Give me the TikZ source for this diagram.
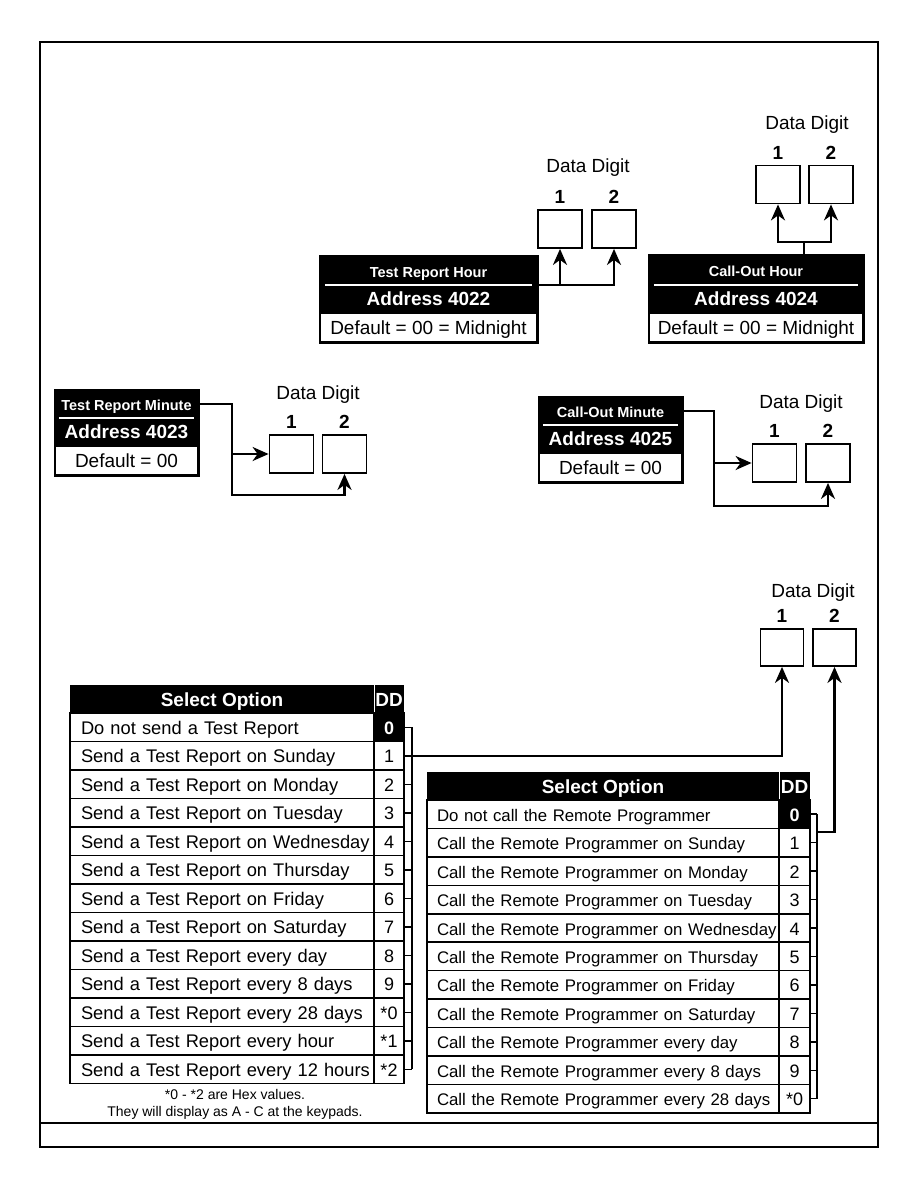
\documentclass[tikz,border=0pt]{standalone}
\usepackage{fontspec}
\setmainfont{Liberation Sans}
\usetikzlibrary{positioning,arrows.meta}

\tikzset{
  frame/.style={line width=2pt},
  edge/.style={line width=2pt},
  tophead/.style={inner sep=0pt, fill=black, text=white, font=\fontsize{14.5}{16}\selectfont\bfseries, text height=14pt, text depth=1pt},
  addr/.style={inner sep=0pt, fill=black, text=white, font=\fontsize{19}{22}\selectfont\bfseries, text height=15pt, text depth=3pt},
  defrow/.style={inner sep=0pt, draw=black, line width=1.5pt, fill=white, font=\fontsize{19}{22}\selectfont, text height=17pt, text depth=2.5pt},
  sep/.style={white, line width=1.5pt},
  digit/.style={draw=black, line width=1.8pt, minimum width=44pt, minimum height=38pt, inner sep=0pt},
  dnum/.style={font=\fontsize{19}{22}\selectfont\bfseries, inner sep=0pt, text height=14pt, text depth=0pt},
  dlabel/.style={font=\fontsize{19}{22}\selectfont, inner sep=0pt},
  conn/.style={line width=2.4pt, -{Stealth[length=16pt,width=14pt,inset=5pt]}},
  wire/.style={line width=2.4pt},
  selhead/.style={inner sep=0pt, fill=black, text=white, minimum height=28pt, font=\fontsize{19}{22}\selectfont\bfseries, text height=17pt, text depth=3pt},
  optcell/.style={draw, line width=1.5pt, text width=#1, align=left, inner ysep=0pt, text height=17pt, text depth=3pt},
  ddcell/.style={draw, line width=1.5pt, inner sep=0pt, text height=17pt, text depth=3pt},
  ddon/.style={ddcell, fill=black, text=white, font=\fontsize{18}{21}\selectfont\bfseries},
  brack/.style={line width=1.5pt},
  note/.style={font=\fontsize{14}{17}\selectfont, align=center, inner sep=0pt}
}

\begin{document}
\begin{tikzpicture}[x=1pt, y=-1pt]
  \useasboundingbox (0,0) rectangle (918,1188);

  % page frame
  \draw[frame] (40,42) rectangle (878,1147);
  \draw[frame] (40,1123) -- (878,1123);

  % Test Report Hour
  \node[tophead, minimum width=217pt, minimum height=29pt] (trhT) at (428.5,270.5) {Test Report Hour};
  \node[addr, minimum width=217pt, minimum height=28pt] (trhA) at (428.5,299) {Address 4022};
  \node[defrow, minimum width=217pt, minimum height=29pt] (trhD) at (428.5,327.5) {Default = 00 = Midnight};
  \draw[sep] ([xshift=5pt]trhT.south west) -- ([xshift=-5pt]trhT.south east);
  \draw[edge] (trhT.north west) rectangle (trhD.south east);

  \node[digit] (trh1) at (560,229) {};
  \node[digit] (trh2) at (614,229) {};
  \node[dnum, above=5pt of trh1] {1};
  \node[dnum, above=5pt of trh2] {2};
  \node[dlabel] at (588,168) {Data Digit};

  \draw[conn] (trhT.south east) -| (trh2.south);
  \draw[conn] (trh1.south |- trhT.south east) -- (trh1.south);

  % Call-Out Hour
  \node[tophead, minimum width=214pt, minimum height=30pt] (cohT) at (756,270) {Call-Out Hour};
  \node[addr, minimum width=214pt, minimum height=28pt] (cohA) at (756,299) {Address 4024};
  \node[defrow, minimum width=214pt, minimum height=29pt] (cohD) at (756,327.5) {Default = 00 = Midnight};
  \draw[sep] ([xshift=5pt]cohT.south west) -- ([xshift=-5pt]cohT.south east);
  \draw[edge] (cohT.north west) rectangle (cohD.south east);

  \node[digit] (coh1) at (778,184.5) {};
  \node[digit] (coh2) at (831,184.5) {};
  \node[dnum, above=5pt of coh1] {1};
  \node[dnum, above=5pt of coh2] {2};
  \node[dlabel] at (807,125) {Data Digit};

  \coordinate (cohJ) at (804,242);
  \draw[wire] (cohJ) -- (cohJ |- cohT.north);
  \draw[conn] (cohJ) -| (coh1.south);
  \draw[conn] (cohJ) -| (coh2.south);

  % Test Report Minute
  \node[tophead, minimum width=143pt, minimum height=28pt] (trmT) at (126.5,404) {Test Report Minute};
  \node[addr, minimum width=143pt, minimum height=28pt] (trmA) at (126.5,432) {Address 4023};
  \node[defrow, minimum width=143pt, minimum height=29pt] (trmD) at (126.5,460.5) {Default = 00};
  \draw[sep] ([xshift=4pt]trmT.south west) -- ([xshift=-4pt]trmT.south east);
  \draw[edge] (trmT.north west) rectangle (trmD.south east);

  \node[digit] (trm1) at (291.5,454) {};
  \node[digit] (trm2) at (344.5,454) {};
  \node[dnum, above=5pt of trm1] {1};
  \node[dnum, above=5pt of trm2] {2};
  \node[dlabel] at (318,395) {Data Digit};

  \coordinate (trmK) at (232,495);
  \draw[conn] (trmT.east) -| (trmK) -| (trm2.south);
  \draw[conn] (trmK |- trm1.west) -- (trm1.west);

  % Call-Out Minute
  \node[tophead, minimum width=143pt, minimum height=28pt] (comT) at (610.5,411) {Call-Out Minute};
  \node[addr, minimum width=143pt, minimum height=28pt] (comA) at (610.5,439) {Address 4025};
  \node[defrow, minimum width=143pt, minimum height=29pt] (comD) at (610.5,467.5) {Default = 00};
  \draw[sep] ([xshift=4pt]comT.south west) -- ([xshift=-4pt]comT.south east);
  \draw[edge] (comT.north west) rectangle (comD.south east);

  \node[digit] (com1) at (774.5,463) {};
  \node[digit] (com2) at (828,463) {};
  \node[dnum, above=5pt of com1] {1};
  \node[dnum, above=5pt of com2] {2};
  \node[dlabel] at (801,404) {Data Digit};

  \coordinate (comK) at (714,506);
  \draw[conn] (comT.east) -| (comK) -| (com2.south);
  \draw[conn] (comK |- com1.west) -- (com1.west);

  % Data digits for the option tables
  \node[digit, minimum width=43pt, minimum height=37pt] (sel1) at (782,647.5) {};
  \node[digit, minimum width=43pt, minimum height=37pt] (sel2) at (834.5,647.5) {};
  \node[dnum, above=5pt of sel1] {1};
  \node[dnum, above=5pt of sel2] {2};
  \node[dlabel] at (813,593) {Data Digit};

  % Test report options
  \node[selhead, minimum width=304pt] (lsel) at (222,699) {Select Option};
  \node[selhead, minimum width=30pt] (lddh) at (389,699) {DD};
  \draw[white, line width=1pt] (lsel.north east) -- (lsel.south east);
  \foreach \txt/\dd/\ddst [count=\i] in {
      Do not send a Test Report/0/ddon,
      Send a Test Report on Sunday/1/ddcell,
      Send a Test Report on Monday/2/ddcell,
      Send a Test Report on Tuesday/3/ddcell,
      Send a Test Report on Wednesday/4/ddcell,
      Send a Test Report on Thursday/5/ddcell,
      Send a Test Report on Friday/6/ddcell,
      Send a Test Report on Saturday/7/ddcell,
      Send a Test Report every day/8/ddcell,
      Send a Test Report every 8 days/9/ddcell,
      Send a Test Report every 28 days/*0/ddcell,
      Send a Test Report every hour/*1/ddcell,
      Send a Test Report every 12 hours/*2/ddcell}
  {
    \node[optcell=282pt, inner xsep=11pt, minimum height=28.5pt, font=\fontsize{18.3}{21}\selectfont] (lo\i) at (222,698.75+28.5*\i) {\mbox{\txt}};
    \node[ddcell, font=\fontsize{18}{21}\selectfont, minimum width=30pt, minimum height=28.5pt, \ddst] (ld\i) at (389,698.75+28.5*\i) {\dd};
    \draw[brack] (ld\i.east) -- ++(7,0);
  }
  \draw[brack] ([xshift=7pt]ld1.east) -- ([xshift=7pt]ld13.east);
  \draw[conn] ([xshift=7pt]ld2.east) -| (sel1.south);

  \node[note] (hexnote) at (235,1104) {*0 - *2 are Hex values.\\They will display as A - C at the keypads.};

  % Remote programmer options
  \node[selhead, minimum width=352pt] (rsel) at (603,786) {Select Option};
  \node[selhead, minimum width=31pt] (rddh) at (794.5,786) {DD};
  \draw[white, line width=1pt] (rsel.north east) -- (rsel.south east);
  \foreach \txt/\dd/\ddst [count=\i] in {
      Do not call the Remote Programmer/0/ddon,
      Call the Remote Programmer on Sunday/1/ddcell,
      Call the Remote Programmer on Monday/2/ddcell,
      Call the Remote Programmer on Tuesday/3/ddcell,
      Call the Remote Programmer on Wednesday/4/ddcell,
      Call the Remote Programmer on Thursday/5/ddcell,
      Call the Remote Programmer on Friday/6/ddcell,
      Call the Remote Programmer on Saturday/7/ddcell,
      Call the Remote Programmer every day/8/ddcell,
      Call the Remote Programmer every 8 days/9/ddcell,
      Call the Remote Programmer every 28 days/*0/ddcell}
  {
    \node[optcell=332pt, inner xsep=10pt, minimum height=28.45pt, font=\fontsize{16.8}{20}\selectfont] (ro\i) at (603,785.75+28.45*\i) {\mbox{\txt}};
    \node[ddcell, font=\fontsize{18}{21}\selectfont, minimum width=31pt, minimum height=28.45pt, \ddst] (rd\i) at (794.5,785.75+28.45*\i) {\dd};
    \draw[brack] (rd\i.east) -- ++(6,0);
  }
  \draw[brack] ([xshift=6pt]rd1.east) -- ([xshift=6pt]rd11.east);
  \coordinate (rbar) at (816,832);
  \draw[conn] (rbar) -| (sel2.south);

\end{tikzpicture}
\end{document}
